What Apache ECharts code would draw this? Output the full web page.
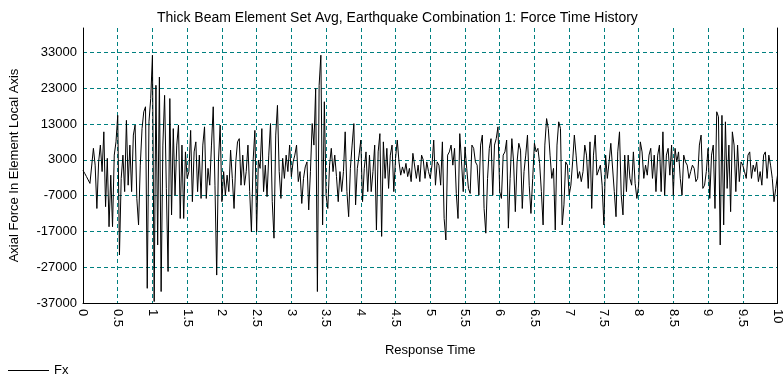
<!DOCTYPE html>
<html>
<head>
<meta charset="utf-8">
<script src="https://cdn.jsdelivr.net/npm/echarts@6.0.0/dist/echarts.min.js"></script>
<style>
  html, body { margin: 0; padding: 0; background: #fff; }
  #chart { width: 784px; height: 378px; }
</style>
</head>
<body>
<div id="chart"></div>
<script>
// sample step of the time history (s)
const DT = 0.025;

// axial force Fx, one value per sample
const fx0to2 = [
  0, -800, -1700, -2200, -3600, -4100, 6200, 1500, -10600, 2400,
  7100, -300, 10800, -10100, 3400, -15700, -1300, -15700, 4300, 8000,
  15400, -23600, -2200, 4300, -5900, 14000, -4100, 7100, -5900, 9900,
  12700, -7800, -15200, 1500, 11700, 16400, 17800, -32900, 13600, 20100,
  32200, -36600, 23800, -20800, 26100, -33800, 7100, 21000, -5000, -28200,
  20100, -12400, 11700, -6900, 7100, 12700, -13400, 7100, -13400, 5200,
  -2200, -300, 11200, -8700, 5200, 8000, -5900, 4300, -7800, 7100,
  12200, -7800, 600, -4100, 7100, 17800, -4100, -29200, 2400, 12700
];
const fx2to4 = [
  -8700, -300, -6900, -1300, -5900, 5700, -2200, -10600, 2400, 8000,
  8900, -4100, 4300, -4100, -300, 7100, -5900, -17100, 2900, 11200,
  -17100, 2900, 600, 11700, -5900, 1500, -7300, 4300, 13100, -8700,
  -18900, 9900, 18200, -300, -7800, 3400, -2200, 4300, -300, 7100,
  -1700, 2400, 4300, 7100, -3100, -300, -9200, -2200, 1000, 2400,
  -11000, -300, 13100, 7100, 22900, -33800, 23800, 32200, -15200, 19200,
  -6900, -10600, 1500, 6200, -300, 4300, -1700, -8700, -300, -5900,
  -300, 10800, -5900, -12900, 600, 7100, 13100, -9600, 600, 4300
];
const fx4to6 = [
  8500, -8700, 600, 5200, -5900, 4300, -5900, -300, 7100, -16600,
  5200, 10300, -18400, 8000, -2200, 6200, -5000, 4300, 7100, -5900,
  3400, 8500, 2400, -1300, 1000, -800, 2000, -1700, 600, -3100,
  4800, 5200, -2200, 1500, -3100, 4300, 2900, -2200, 2400, -300,
  -2200, 1500, 8500, -4100, 2400, 1500, -4100, 8000, -13400, -19400,
  4300, 5200, 7100, 1500, 6200, -6400, -13400, 10300, 2400, -5900,
  6600, 600, -5000, -6400, 7100, 6200, 2400, 1500, -6900, 7100,
  9900, -10600, -17500, -2200, 6200, 8900, -6900, 7100, 8900
];
const fx6to8 = [
  12200, -5900, -7800, 4300, 5200, 8500, -16100, -2200, 8900, 2400,
  -11500, 2400, 7600, 5700, -10600, -300, 4300, 9900, -4100, -12000,
  -2200, 7600, 5200, 6200, 2000, -5900, -15200, 7100, 14500, 11700,
  4300, -2200, 600, -16600, 7100, 13600, 11700, -15200, -9600, 2400,
  1500, -6900, -4100, 2400, 9900, 4300, -2200, -300, -3100, -300,
  7100, 4300, -5000, 8000, -10600, 4300, 9900, -1300, -1300, 1500,
  -4100, -15200, 4300, -2200, 2400, 7600, 8000, -5900, -12900, 5200,
  10800, -6900, -12400, 4300, -5900, 4300, -2200, -4100, 5200
];
const fx8to10 = [
  -3600, -7800, -4100, 8000, 5200, -2200, 1500, -1300, 4300, 6200,
  -2200, 4300, -5900, 4300, 7100, -5900, 10800, -6900, 4300, 6200,
  -1300, 7100, -6900, 6200, 2400, 5200, -2200, -6900, 4300, 2400,
  1500, -2200, -300, 1500, 600, -3100, -2200, 7100, 9900, -5000,
  -4100, -300, 6200, -7800, 4300, 7100, -10600, 16400, 15000, -20800,
  15400, -15200, 13600, -5000, 7100, -11500, 10800, 7100, -5900, 7100,
  -3100, 2400, 1500, -300, -2200, 4300, 5200, -2200, 1500, -300,
  2400, -3100, -300, -4100, 4300, 5200, -2200, 4300, 1500, -2200,
  -8700, -5000, -1300
];
const fxValues = [].concat(fx0to2, fx2to4, fx4to6, fx6to8, fx8to10);

const yTicks = { min: -37000, max: 39800, step: 10000 };
const xTicks = { min: 0, max: 10, step: 0.5 };

const font = "'Liberation Sans', Arial, sans-serif";
const gridLine = { show: true, lineStyle: { color: '#008080', width: 1, type: [4, 3] } };

let myChart = echarts.init(document.getElementById('chart'), null, { renderer: 'canvas' });
myChart.setOption({
  animation: false,
  backgroundColor: '#fff',
  textStyle: { fontFamily: font },
  title: {
    text: 'Thick Beam Element Set Avg, Earthquake Combination 1: Force Time History',
    left: 152,
    top: 6,
    textStyle: { fontSize: 14, fontWeight: 'normal', color: '#000', fontFamily: font }
  },
  legend: {
    left: 8,
    top: 364,
    padding: 0,
    icon: 'rect',
    itemWidth: 41,
    itemHeight: 1,
    textStyle: { fontSize: 13, color: '#000', fontFamily: font },
    data: ['Fx']
  },
  grid: { left: 83, right: 4, top: 28, bottom: 75 },
  xAxis: {
    type: 'value',
    min: xTicks.min,
    max: xTicks.max,
    interval: xTicks.step,
    name: 'Response Time',
    nameLocation: 'middle',
    nameGap: 41,
    nameTextStyle: { fontSize: 13, color: '#000', fontFamily: font },
    axisLine: { show: true, onZero: false, lineStyle: { color: '#000', width: 1 } },
    axisTick: { show: false },
    axisLabel: { rotate: -90, margin: 6, fontSize: 13, color: '#000', fontFamily: font },
    splitLine: gridLine
  },
  yAxis: [{
    type: 'value',
    min: yTicks.min,
    max: yTicks.max,
    interval: yTicks.step,
    name: 'Axial Force In Element Local Axis',
    nameLocation: 'middle',
    nameGap: 62,
    nameTextStyle: { fontSize: 13, color: '#000', fontFamily: font },
    axisLine: { show: true, onZero: false, lineStyle: { color: '#000', width: 1 } },
    axisTick: { show: false },
    axisLabel: {
      margin: 6, fontSize: 13, color: '#000', fontFamily: font, showMaxLabel: false,
      formatter: v => String(v)
    },
    splitLine: Object.assign({ showMaxLine: false }, gridLine)
  }, {
    type: 'value',
    position: 'right',
    min: yTicks.min,
    max: yTicks.max,
    axisLine: { show: true, onZero: false, lineStyle: { color: '#000', width: 1 } },
    axisTick: { show: false },
    axisLabel: { show: false },
    splitLine: { show: false }
  }],
  series: [{
    name: 'Fx',
    type: 'line',
    yAxisIndex: 0,
    showSymbol: false,
    lineStyle: { color: '#000', width: 1 },
    itemStyle: { color: '#000' },
    data: fxValues.map((v, i) => [i * DT, v])
  }]
});
</script>
</body>
</html>
